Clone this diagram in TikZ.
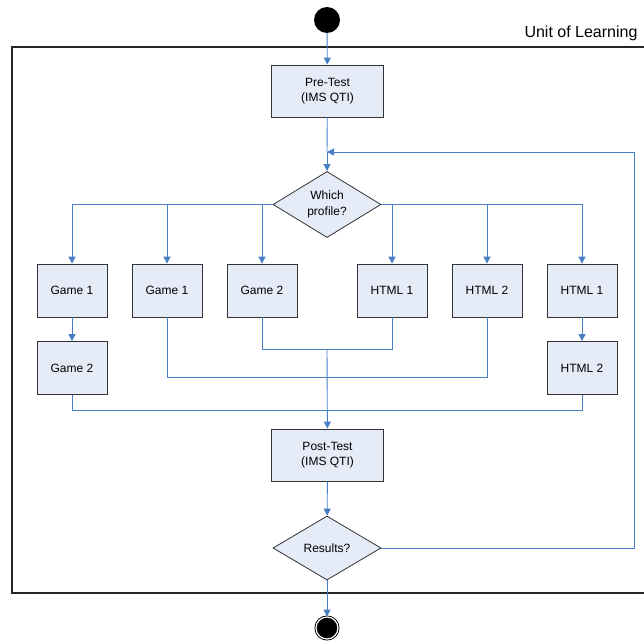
\documentclass[tikz,border=0pt]{standalone}
\usepackage{fontspec}
\setmainfont{Liberation Sans}
\usetikzlibrary{shapes.geometric}
\usetikzlibrary{arrows.meta}
\definecolor{flowblue}{HTML}{4A7EC4}
\definecolor{boxfill}{HTML}{E6ECF7}

\begin{document}
\begin{tikzpicture}[x=1pt, y=-1pt,
    act/.style={draw=black!80, fill=boxfill, line width=0.8pt, minimum width=70pt, minimum height=53pt, inner sep=0pt, align=center, font=\fontsize{12}{15.5}\selectfont},
    test/.style={act, minimum width=112pt, minimum height=52pt},
    choice/.style={diamond, draw=black!80, fill=boxfill, line width=0.8pt, minimum width=108pt, minimum height=65pt, inner sep=0pt, align=center, font=\fontsize{12}{15.5}\selectfont},
    flow/.style={draw=flowblue, line width=0.9pt},
    arr/.style={flow, -{Triangle[length=7pt,width=7pt]}}]
  \useasboundingbox (0,0) rectangle (644,644);

  % swimlane frame
  \draw[line width=2pt, black!85] (644,47) -- (12,47) -- (12,593) -- (644,593);
  \node[anchor=base east, font=\fontsize{16}{18}\selectfont] (uol) at (641,38) {Unit of Learning};

  % start / end
  \node[circle, fill=black, minimum size=26pt, inner sep=0pt] (start) at (327,20) {};
  \node[circle, fill=black, draw=black, double=white, double distance=1.2pt, line width=0.9pt, minimum size=22pt, inner sep=0pt] (stop) at (327,628) {};

  \node[test] (pre) at (327.5,91) {Pre-Test\\(IMS QTI)};
  \node[choice] (which) at (327,204.5) {Which\\profile?};

  % first row
  \node[act] (g1a) at (72,290.5) {Game 1};
  \node[act] (g1b) at (167,290.5) {Game 1};
  \node[act] (g2b) at (262,290.5) {Game 2};
  \node[act] (h1a) at (392,290.5) {HTML 1};
  \node[act] (h2a) at (487,290.5) {HTML 2};
  \node[act] (h1b) at (582,290.5) {HTML 1};
  % second row
  \node[act] (g2a) at (72,368) {Game 2};
  \node[act] (h2b) at (582,368) {HTML 2};

  \node[test] (post) at (327.5,455) {Post-Test\\(IMS QTI)};
  \node[choice, minimum height=64pt] (res) at (327,548) {Results?};

  % join points
  \coordinate (j1) at (327,349);
  \coordinate (j2) at (327,377);
  \coordinate (j3) at (327,410);
  \coordinate (loop) at (634,152);
  \coordinate (back) at (327,152);

  \draw[arr] (start) -- (pre);
  \draw[flow] (pre) -- (back);
  \draw[arr] (back) -- (which);

  \draw[arr] (which.west) -| (g1a);
  \draw[arr] (which.west) -| (g1b);
  \draw[arr] (which.west) -| (g2b);
  \draw[arr] (which.east) -| (h1a);
  \draw[arr] (which.east) -| (h2a);
  \draw[arr] (which.east) -| (h1b);
  \draw[arr] (g1a) -- (g2a);
  \draw[arr] (h1b) -- (h2b);

  \draw[flow] (g2b.south) |- (j1);
  \draw[flow] (h1a.south) |- (j1);
  \draw[flow] (g1b.south) |- (j2);
  \draw[flow] (h2a.south) |- (j2);
  \draw[flow] (g2a.south) |- (j3);
  \draw[flow] (h2b.south) |- (j3);
  \draw[arr] (j1) -- (post);

  \draw[arr] (post) -- (res);
  \draw[arr] (res.east) -| (loop) -- (back);
  \draw[arr] (res) -- (stop);
\end{tikzpicture}
\end{document}
